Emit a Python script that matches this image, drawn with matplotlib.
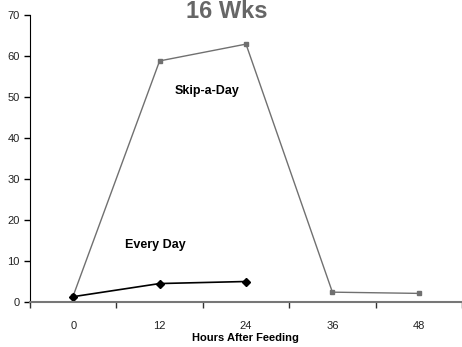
import matplotlib.pyplot as plt
import numpy as np

hours = ["0", "12", "24", "36", "48"]
skip_a_day = [1.5, 58.8, 62.9, 2.4, 2.1]
every_day = [1.3, 4.5, 5.0]

plt.rcParams['font.family'] = ['Liberation Sans', 'DejaVu Sans']

fig = plt.figure(figsize=(4.62, 3.47), dpi=100)
ax = fig.add_axes([30 / 462, 45 / 347, 432 / 462, 287 / 347])

x = np.arange(len(hours))
ax.plot(x, skip_a_day, color='#707070', lw=1.0, marker='s', ms=3.5,
        mfc='#707070', mec='#707070')
ax.plot(x[:len(every_day)], every_day, color='black', lw=1.2, marker='D',
        ms=4, mfc='black', mec='black')

ax.set_xlim(-0.5, len(hours) - 0.5)
ax.set_ylim(0, 70)
ax.set_yticks(range(0, 71, 10))
ax.set_xticks(x)
ax.set_xticklabels(hours)
ax.set_xticks(np.arange(-0.5, len(hours) - 0.4, 1), minor=True)
ax.tick_params(axis='x', which='major', length=0, pad=14, labelsize=8,
               labelcolor='#222222')
ax.tick_params(axis='x', which='minor', length=4, width=1, color='#333333')
ax.tick_params(axis='y', length=4, width=1, labelsize=8, labelcolor='#222222')

for side in ('top', 'right'):
    ax.spines[side].set_visible(False)
ax.spines['left'].set_color('black')
ax.spines['bottom'].set_color('#777777')
ax.spines['bottom'].set_linewidth(1.5)

ax.text(1.55, 51.5, "Skip-a-Day", fontsize=9, fontweight='bold', ha='center', va='center')
ax.text(0.95, 14.0, "Every Day", fontsize=9, fontweight='bold', ha='center', va='center')

fig.text(227 / 462, 1 - 12 / 347, "16 Wks", fontsize=17, fontweight='bold',
         color='#666666', ha='center', va='center')
fig.text(245 / 462, 1 - 338 / 347, "Hours After Feeding", fontsize=8,
         fontweight='bold', ha='center', va='center')

fig.savefig("out.png", dpi=100)
